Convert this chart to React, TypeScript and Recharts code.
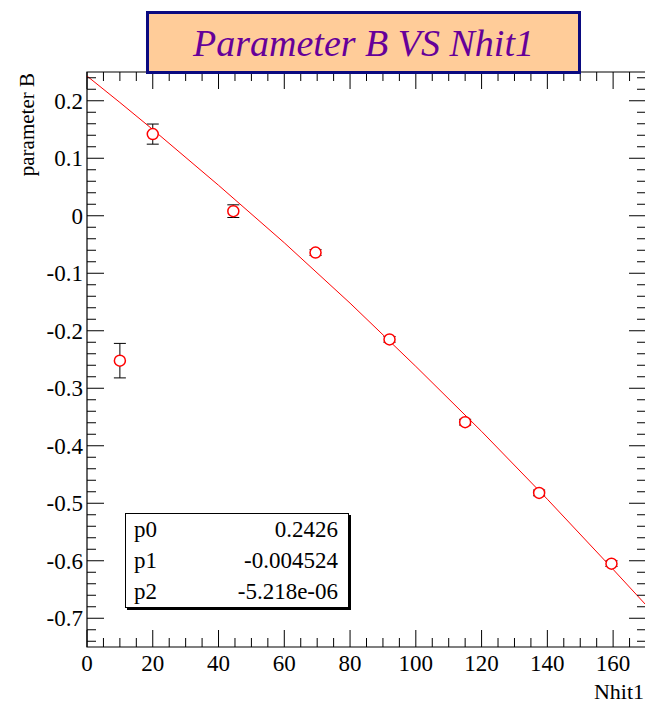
import {
  ComposedChart,
  Scatter,
  Line,
  XAxis,
  YAxis,
  ErrorBar,
  ReferenceArea,
} from "recharts";

// measured points (Nhit1, parameter B, error)
const nhit = [10, 20, 44.5, 69.5, 92, 115, 137.5, 159.5];
const paramB = [-0.252, 0.142, 0.008, -0.064, -0.215, -0.359, -0.482, -0.605];
const paramBErr = [0.03, 0.0175, 0.011, 0.005, 0.005, 0.005, 0.005, 0.005];

// pol2 fit curve
const fitX = [0, 10, 20, 40, 60, 80, 100, 120, 140, 160, 170];
const fitY = [0.243, 0.197, 0.15, 0.053, -0.047, -0.152, -0.262, -0.375, -0.493, -0.615, -0.677];

const fitNames = ["p0", "p1", "p2"];
const fitValues = ["0.2426", "-0.004524", "-5.218e-06"];

const xMajor = [0, 20, 40, 60, 80, 100, 120, 140, 160];
const yMajor = [-0.7, -0.6, -0.5, -0.4, -0.3, -0.2, -0.1, 0, 0.1, 0.2];

const xTicks: number[] = [];
for (let v = 0; v <= 170; v += 5) xTicks.push(v);
const yTicks: number[] = [];
for (let i = -37; i <= 12; i++) yTicks.push(Math.round(i * 2) / 100);

const points = nhit.map((x, i) => ({ x, y: paramB[i], err: paramBErr[i] }));
const fit = fitX.map((x, i) => ({ x, y: fitY[i] }));

// plot frame in pixels
const X0 = 87;
const X1 = 646;
const Y0 = 72;
const Y1 = 647;

const font = "Liberation Serif, Times New Roman, serif";

function XTick(props: any) {
  const { x, payload } = props;
  const v = payload.value;
  const major = xMajor.includes(v);
  const len = major ? 17 : 9;
  return (
    <g>
      <line x1={x} y1={Y1} x2={x} y2={Y1 - len} stroke="#000" />
      <line x1={x} y1={Y0} x2={x} y2={Y0 + len} stroke="#000" />
      {major && (
        <text x={x} y={Y1 + 24} textAnchor="middle" fontFamily={font} fontSize={23} fill="#000">
          {String(v)}
        </text>
      )}
    </g>
  );
}

function YTick(props: any) {
  const { y, payload } = props;
  const v = Math.round(payload.value * 100) / 100;
  const major = yMajor.some((m) => Math.abs(m - v) < 1e-6);
  const len = major ? 17 : 9;
  return (
    <g>
      <line x1={X0} y1={y} x2={X0 + len} y2={y} stroke="#000" />
      <line x1={X1} y1={y} x2={X1 - len} y2={y} stroke="#000" />
      {major && (
        <text x={X0 - 4} y={y + 8} textAnchor="end" fontFamily={font} fontSize={23} fill="#000">
          {String(v)}
        </text>
      )}
    </g>
  );
}

function OpenCircle(props: any) {
  const { cx, cy } = props;
  return <circle cx={cx} cy={cy} r={5.5} fill="#fff" stroke="#ff0000" strokeWidth={1.5} />;
}

export default function App() {
  return (
    <div
      style={{
        position: "absolute",
        left: 0,
        top: 0,
        width: 645,
        height: 706,
        overflow: "hidden",
        background: "#fff",
        fontFamily: font,
      }}
    >
      <ComposedChart
        width={647}
        height={706}
        margin={{ top: 72, right: 1, bottom: 19, left: 27 }}
      >
        <XAxis
          dataKey="x"
          type="number"
          domain={[0, 170]}
          ticks={xTicks}
          interval={0}
          allowDataOverflow
          tick={<XTick />}
          tickLine={false}
          axisLine={false}
          height={40}
        />
        <YAxis
          type="number"
          domain={[-0.75, 0.25]}
          ticks={yTicks}
          interval={0}
          allowDataOverflow
          tick={<YTick />}
          tickLine={false}
          axisLine={false}
          width={60}
        />
        <ReferenceArea
          x1={0}
          x2={170}
          y1={-0.75}
          y2={0.25}
          fill="none"
          stroke="#000"
          strokeWidth={1.2}
          ifOverflow="visible"
        />
        <Scatter data={points} dataKey="y" shape={<OpenCircle />} isAnimationActive={false}>
          <ErrorBar dataKey="err" direction="y" width={6} stroke="#000" strokeWidth={1} />
        </Scatter>
        <Line
          data={fit}
          dataKey="y"
          type="linear"
          stroke="#ff0000"
          strokeWidth={1}
          dot={false}
          activeDot={false}
          isAnimationActive={false}
        />
      </ComposedChart>

      {/* axis titles */}
      <svg
        width={645}
        height={706}
        style={{ position: "absolute", left: 0, top: 0, pointerEvents: "none" }}
      >
        <text x={644} y={699} textAnchor="end" fontFamily={font} fontSize={22} fill="#000">
          Nhit1
        </text>
        <text
          transform="translate(34,73) rotate(-90)"
          textAnchor="end"
          fontFamily={font}
          fontSize={21}
          fill="#000"
        >
          parameter B
        </text>
      </svg>

      {/* title box */}
      <div
        style={{
          position: "absolute",
          left: 146,
          top: 11,
          width: 435,
          height: 63,
          boxSizing: "border-box",
          border: "3px solid #0a0a80",
          background: "#ffcc99",
          color: "#660099",
          fontStyle: "italic",
          fontSize: 38,
          display: "flex",
          alignItems: "center",
          justifyContent: "center",
          whiteSpace: "nowrap",
        }}
      >
        Parameter B VS Nhit1
      </div>

      {/* fit stats box */}
      <div
        style={{
          position: "absolute",
          left: 125,
          top: 513,
          width: 224,
          height: 95,
          boxSizing: "border-box",
          border: "1px solid #000",
          background: "#fff",
          boxShadow: "2px 2px 0 #000",
          fontSize: 23,
          color: "#000",
          display: "grid",
          gridTemplateColumns: "1fr auto",
          gridTemplateRows: "1fr 1fr 1fr",
          alignItems: "center",
          padding: "0 10px 0 8px",
        }}
      >
        {fitNames.map((n, i) => [
          <div key={n}>{n}</div>,
          <div key={n + "v"} style={{ textAlign: "right" }}>
            {fitValues[i]}
          </div>,
        ])}
      </div>
    </div>
  );
}
